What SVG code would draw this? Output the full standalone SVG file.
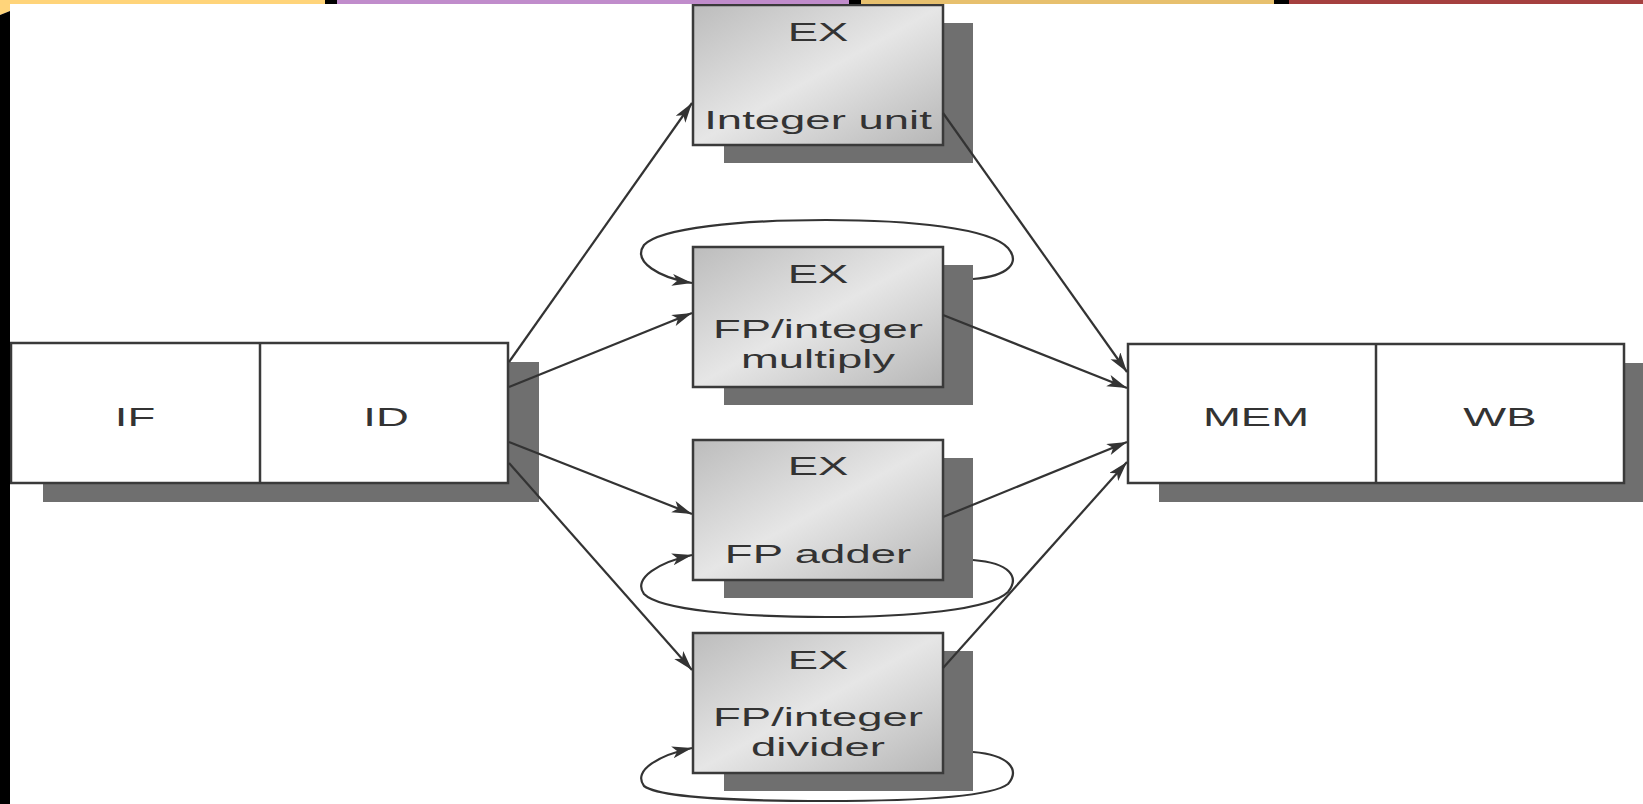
<svg xmlns="http://www.w3.org/2000/svg" width="1643" height="804" viewBox="0 0 1643 804">
  <defs>
    <linearGradient id="exFill" x1="0" y1="0" x2="1" y2="1">
      <stop offset="0" stop-color="#bcbcbc"/>
      <stop offset="0.5" stop-color="#e6e6e6"/>
      <stop offset="1" stop-color="#b6b6b6"/>
    </linearGradient>
    <marker id="arrow" markerUnits="userSpaceOnUse" markerWidth="22" markerHeight="14" refX="20" refY="6" orient="auto">
      <path d="M0,0 L20,6 L0,12 L5,6 z" fill="#333"/>
    </marker>
    <style>
      .shadow { fill: #6f6f6f; }
      .box { stroke: #3a3a3a; stroke-width: 2.5; }
      .white { fill: #ffffff; }
      .ex { fill: url(#exFill); }
      .lbl { font-family: "Liberation Sans", Arial, sans-serif; font-size: 26px; fill: #333; text-anchor: middle; }
      .conn { fill: none; stroke: #333; stroke-width: 2.2; marker-end: url(#arrow); }
    </style>
  </defs>

  <rect width="1643" height="804" fill="#ffffff"/>

  <!-- Left pipeline stages IF / ID -->
  <g id="node-if-id">
    <rect class="shadow" x="43" y="362" width="496" height="140"/>
    <rect class="box white" x="11" y="343" width="497" height="140"/>
    <line class="box" x1="260" y1="343" x2="260" y2="483"/>
    <text class="lbl" transform="translate(135,426) scale(1.75,1)">IF</text>
    <text class="lbl" transform="translate(386,426) scale(1.75,1)">ID</text>
  </g>

  <!-- EX: Integer unit -->
  <g id="node-ex-integer">
    <rect class="shadow" x="724" y="23" width="249" height="140"/>
    <rect class="box ex" x="693" y="5" width="250" height="140"/>
    <text class="lbl" transform="translate(818,41) scale(1.75,1)">EX</text>
    <text class="lbl" transform="translate(818,129) scale(1.75,1)">Integer unit</text>
  </g>

  <!-- EX: FP/integer multiply -->
  <g id="node-ex-multiply">
    <rect class="shadow" x="724" y="265" width="249" height="140"/>
    <rect class="box ex" x="693" y="247" width="250" height="140"/>
    <text class="lbl" transform="translate(818,283) scale(1.75,1)">EX</text>
    <text class="lbl" transform="translate(818,338) scale(1.75,1)">FP/integer</text>
    <text class="lbl" transform="translate(818,368) scale(1.75,1)">multiply</text>
  </g>

  <!-- EX: FP adder -->
  <g id="node-ex-adder">
    <rect class="shadow" x="724" y="458" width="249" height="140"/>
    <rect class="box ex" x="693" y="440" width="250" height="140"/>
    <text class="lbl" transform="translate(818,475) scale(1.75,1)">EX</text>
    <text class="lbl" transform="translate(818,563) scale(1.75,1)">FP adder</text>
  </g>

  <!-- EX: FP/integer divider -->
  <g id="node-ex-divider">
    <rect class="shadow" x="724" y="651" width="249" height="140"/>
    <rect class="box ex" x="693" y="633" width="250" height="140"/>
    <text class="lbl" transform="translate(818,669) scale(1.75,1)">EX</text>
    <text class="lbl" transform="translate(818,726) scale(1.75,1)">FP/integer</text>
    <text class="lbl" transform="translate(818,756) scale(1.75,1)">divider</text>
  </g>

  <!-- Right pipeline stages MEM / WB -->
  <g id="node-mem-wb">
    <rect class="shadow" x="1159" y="363" width="496" height="139"/>
    <rect class="box white" x="1128" y="344" width="496" height="139"/>
    <line class="box" x1="1376" y1="344" x2="1376" y2="483"/>
    <text class="lbl" transform="translate(1256,426) scale(1.75,1)">MEM</text>
    <text class="lbl" transform="translate(1500,426) scale(1.75,1)">WB</text>
  </g>

  <!-- Connectors -->
  <g id="connectors">
    <line class="conn" x1="509" y1="362" x2="692" y2="103"/>
    <line class="conn" x1="509" y1="387" x2="692" y2="313"/>
    <line class="conn" x1="509" y1="442" x2="692" y2="514"/>
    <line class="conn" x1="509" y1="463" x2="692" y2="670"/>

    <line class="conn" x1="943" y1="113" x2="1127" y2="372"/>
    <line class="conn" x1="943" y1="315" x2="1127" y2="388"/>
    <line class="conn" x1="943" y1="517" x2="1127" y2="442"/>
    <line class="conn" x1="943" y1="668" x2="1127" y2="462"/>

    <path class="conn" d="M973,279 C1010,276 1020,262 1008,248 C990,228 910,220 826,220 C740,220 660,228 644,245 C632,262 660,278 692,283"/>
    <path class="conn" d="M973,560 C1010,563 1020,577 1008,592 C990,610 910,617 826,617 C740,617 660,610 644,594 C632,578 660,562 692,555"/>
    <path class="conn" d="M973,752 C1010,755 1020,770 1008,784 C990,798 910,801 826,801 C740,801 660,798 644,786 C632,770 660,755 692,748"/>
  </g>

  <!-- Slide decoration: top colour bars and left edge -->
  <g id="decor">
    <polygon points="0,0 325,0 325,4 10,4 10,11 0,15" fill="#ffd47a"/>
    <rect x="325" y="0" width="12" height="4" fill="#000"/>
    <rect x="337" y="0" width="512" height="4" fill="#c08ccb"/>
    <rect x="849" y="0" width="12" height="4" fill="#000"/>
    <rect x="861" y="0" width="413" height="4" fill="#e7c06e"/>
    <rect x="1274" y="0" width="15" height="4" fill="#000"/>
    <rect x="1289" y="0" width="354" height="4" fill="#a5403f"/>
    <polygon points="0,15 10,11 10,804 0,804" fill="#000"/>
  </g>
</svg>
